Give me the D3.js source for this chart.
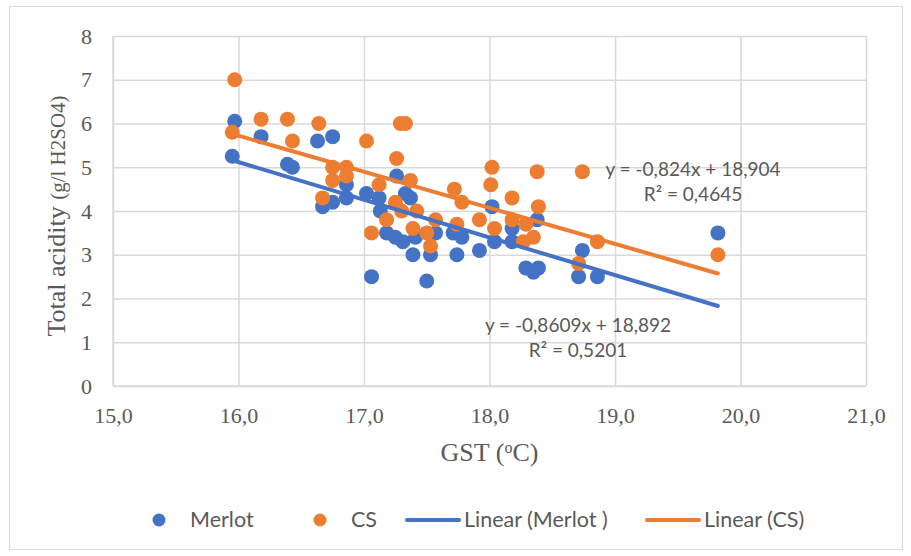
<!DOCTYPE html>
<html>
<head>
<meta charset="utf-8">
<script src="https://cdn.jsdelivr.net/npm/d3@7"></script>
<style>
  body { margin: 0; background: #fff; }
  svg { display: block; }
</style>
</head>
<body>
<div id="chart"></div>
<script>
// values
var merlotGST = [15.97, 15.95, 16.18, 16.39, 16.43, 16.63, 16.75, 16.67, 16.75, 16.86,
    16.86, 17.02, 17.12, 17.13, 17.26, 17.33, 17.37, 17.18, 17.25, 17.31,
    17.39, 17.41, 17.53, 17.57, 17.50, 17.06, 17.71, 17.78, 17.74, 17.92,
    18.02, 18.04, 18.18, 18.18, 18.29, 18.35, 18.39, 18.38, 18.74, 18.71,
    18.86, 19.82];
var merlotTA = [6.05, 5.25, 5.7, 5.07, 5.0, 5.6, 5.7, 4.1, 4.2, 4.6,
    4.3, 4.4, 4.3, 4.0, 4.8, 4.4, 4.3, 3.5, 3.4, 3.3,
    3.0, 3.4, 3.0, 3.5, 2.4, 2.5, 3.5, 3.4, 3.0, 3.1,
    4.1, 3.3, 3.6, 3.3, 2.7, 2.6, 2.7, 3.8, 3.1, 2.5,
    2.5, 3.5];

var csGST = [15.97, 15.95, 16.18, 16.39, 16.43, 16.64, 17.02, 17.29, 17.33, 17.26,
    16.75, 16.86, 16.75, 16.86, 16.67, 17.12, 17.25, 17.37, 17.18, 17.30,
    17.42, 17.57, 17.39, 17.50, 17.53, 17.06, 17.72, 17.78, 17.74, 17.92,
    18.02, 18.01, 18.04, 18.18, 18.18, 18.29, 18.39, 18.38, 18.35, 18.27,
    18.74, 18.86, 18.71, 19.82];
var csTA = [7.0, 5.8, 6.1, 6.1, 5.6, 6.0, 5.6, 6.0, 6.0, 5.2,
    5.0, 5.0, 4.7, 4.8, 4.3, 4.6, 4.2, 4.7, 3.8, 4.0,
    4.0, 3.8, 3.6, 3.5, 3.2, 3.5, 4.5, 4.2, 3.7, 3.8,
    5.0, 4.6, 3.6, 4.3, 3.8, 3.7, 4.1, 4.9, 3.4, 3.3,
    4.9, 3.3, 2.8, 3.0];

// trendline coefficients as printed on the chart
var merlotFit = { slope: -0.8609, intercept: 18.892, r2: 0.5201 };
var csFit = { slope: -0.824, intercept: 18.904, r2: 0.4645 };

var xTicks = [15, 16, 17, 18, 19, 20, 21];
var yTicks = [0, 1, 2, 3, 4, 5, 6, 7, 8];

var legendLabels = ['Merlot', 'CS', 'Linear (Merlot )', 'Linear (CS)'];

var blue = '#4472C4';
var orange = '#ED7D31';
var textColor = '#595959';
var gridColor = '#d9d9d9';

var width = 911;
var height = 556;
var margin = { top: 36, right: 45, bottom: 170, left: 113 };
var plotW = width - margin.left - margin.right;
var plotH = height - margin.top - margin.bottom;

var svg = d3.select('#chart').append('svg')
    .attr('width', width)
    .attr('height', height);

// chart border
svg.append('rect')
    .attr('x', 9.5)
    .attr('y', 6.5)
    .attr('width', 893)
    .attr('height', 543)
    .attr('fill', '#fff')
    .attr('stroke', gridColor)
    .attr('stroke-width', 1);

var g = svg.append('g')
    .attr('transform', 'translate(' + margin.left + ',' + margin.top + ')');

var x = d3.scaleLinear().domain([15, 21]).range([0, plotW]);
var y = d3.scaleLinear().domain([0, 8]).range([plotH, 0]);

function commaFmt(d) {
    return d3.format('.1f')(d).replace('.', ',');
}

var xAxis = d3.axisBottom(x)
    .tickValues(xTicks)
    .tickSizeInner(-plotH)
    .tickSizeOuter(0)
    .tickPadding(21)
    .tickFormat(commaFmt);

var yAxis = d3.axisLeft(y)
    .tickValues(yTicks)
    .tickSizeInner(-plotW)
    .tickSizeOuter(0)
    .tickPadding(21)
    .tickFormat(d3.format('d'));

var gx = g.append('g')
    .attr('transform', 'translate(0,' + plotH + ')')
    .call(xAxis);
var gy = g.append('g').call(yAxis);

[gx, gy].forEach(function (ax) {
    ax.select('.domain').remove();
    ax.selectAll('line').attr('stroke', gridColor).attr('stroke-width', 1.5);
    ax.selectAll('text')
        .attr('fill', textColor)
        .style('font', '22px "Liberation Serif", "Times New Roman", serif');
});

// axis lines
g.append('line')
    .attr('x1', 0).attr('x2', 0).attr('y1', 0).attr('y2', plotH)
    .attr('stroke', gridColor).attr('stroke-width', 1.5);
g.append('line')
    .attr('x1', 0).attr('x2', plotW).attr('y1', plotH).attr('y2', plotH)
    .attr('stroke', gridColor).attr('stroke-width', 1.5);

// points
var merlotPts = merlotGST.map(function (d, i) { return [d, merlotTA[i]]; });
var csPts = csGST.map(function (d, i) { return [d, csTA[i]]; });

g.selectAll('circle.merlot')
    .data(merlotPts)
    .enter()
    .append('circle')
    .attr('class', 'merlot')
    .attr('cx', function (d) { return x(d[0]); })
    .attr('cy', function (d) { return y(d[1]); })
    .attr('r', 7.5)
    .attr('fill', blue);

g.selectAll('circle.cs')
    .data(csPts)
    .enter()
    .append('circle')
    .attr('class', 'cs')
    .attr('cx', function (d) { return x(d[0]); })
    .attr('cy', function (d) { return y(d[1]); })
    .attr('r', 7.5)
    .attr('fill', orange);

// trendlines over the data range
function trend(xs, fit, color) {
    var ext = d3.extent(xs);
    var line = d3.line()
        .x(function (d) { return x(d); })
        .y(function (d) { return y(fit.slope * d + fit.intercept); });
    g.append('path')
        .datum(ext)
        .attr('d', line)
        .attr('fill', 'none')
        .attr('stroke', color)
        .attr('stroke-width', 4)
        .attr('stroke-linecap', 'round');
}
trend(merlotGST, merlotFit, blue);
trend(csGST, csFit, orange);

// equation labels
function num(v) { return String(v).replace('.', ','); }
function eqLabel(fit, cx, by) {
    var t = svg.append('text')
        .attr('text-anchor', 'middle')
        .attr('fill', textColor)
        .style('font', '19px Lato, "Open Sans", sans-serif');
    t.append('tspan').attr('x', cx).attr('y', by)
        .text('y = ' + num(fit.slope) + 'x + ' + num(fit.intercept));
    t.append('tspan').attr('x', cx).attr('y', by + 25)
        .text('R\u00B2 = ' + num(fit.r2));
}
eqLabel(csFit, 693, 176);
eqLabel(merlotFit, 578, 332);

// axis titles
var yTitle = svg.append('text')
    .attr('transform', 'translate(65,216) rotate(-90)')
    .attr('text-anchor', 'middle')
    .attr('fill', textColor)
    .style('font-family', '"Liberation Serif", "Times New Roman", serif');
yTitle.append('tspan').style('font-size', '26px').text('Total acidity ');
yTitle.append('tspan').style('font-size', '21px').text('(g/l H2SO4)');

var xTitle = svg.append('text')
    .attr('x', margin.left + plotW / 2)
    .attr('y', 461)
    .attr('text-anchor', 'middle')
    .attr('fill', textColor)
    .style('font-family', '"Liberation Serif", "Times New Roman", serif')
    .style('font-size', '26px');
xTitle.append('tspan').text('GST (');
xTitle.append('tspan').attr('baseline-shift', 'super').style('font-size', '16px').text('o');
xTitle.append('tspan').text('C)');

// legend
var legend = svg.append('g').attr('class', 'legend');
var legendFont = '21.5px Lato, "Open Sans", sans-serif';

legend.append('circle').attr('cx', 159).attr('cy', 520).attr('r', 6.5).attr('fill', blue);
legend.append('text').attr('x', 190).attr('y', 527).text(legendLabels[0]);
legend.append('circle').attr('cx', 320).attr('cy', 520).attr('r', 6.5).attr('fill', orange);
legend.append('text').attr('x', 351).attr('y', 527).text(legendLabels[1]);
legend.append('line').attr('x1', 407).attr('x2', 459).attr('y1', 520).attr('y2', 520)
    .attr('stroke', blue).attr('stroke-width', 4).attr('stroke-linecap', 'round');
legend.append('text').attr('x', 464).attr('y', 527).text(legendLabels[2]);
legend.append('line').attr('x1', 647).attr('x2', 699).attr('y1', 520).attr('y2', 520)
    .attr('stroke', orange).attr('stroke-width', 4).attr('stroke-linecap', 'round');
legend.append('text').attr('x', 704).attr('y', 527).text(legendLabels[3]);

legend.selectAll('text')
    .attr('fill', textColor)
    .style('font', legendFont);
</script>
</body>
</html>
